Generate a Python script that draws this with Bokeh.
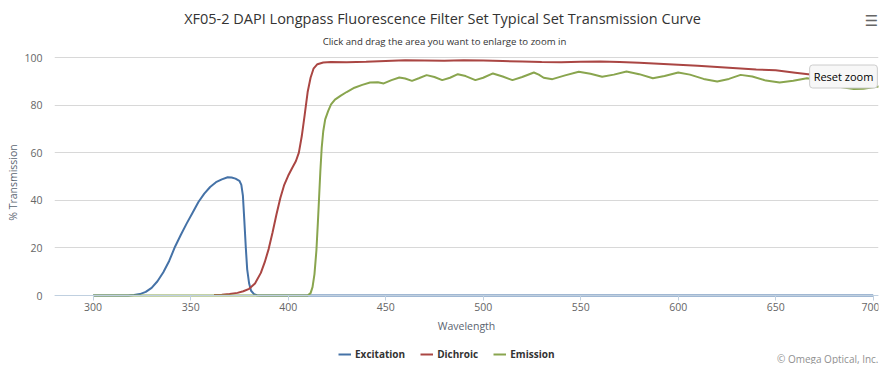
from bokeh.plotting import figure
from bokeh.models import Label, Legend, LegendItem, FixedTicker, Range1d, ColumnDataSource
from bokeh.embed import file_html
from bokeh.resources import INLINE

# ---- data ----
excitation_nm = [300, 318, 321, 324, 327, 330, 333, 336, 339, 342, 345, 348, 351, 354, 357, 360,
                 363, 366, 369, 371, 373, 375, 376, 376.8, 377.5, 378.3, 379, 380, 381, 382.5, 384, 386, 700]
excitation_t = [0, 0, 0.2, 0.6, 1.5, 3.2, 6.0, 9.8, 14.5, 20.5, 25.5, 30.3, 34.8, 39.3, 42.8, 45.6,
                47.6, 48.8, 49.7, 49.6, 49.1, 48.2, 46.5, 42, 32, 20, 11, 5, 2, 0.6, 0.1, 0, 0]

dichroic_nm = [362, 366, 370, 374, 377, 380, 383, 386, 388, 390, 392, 394, 396, 398, 400, 402, 404,
               405.5, 407, 408.5, 410, 411.5, 413, 415, 418, 422, 430, 440, 450, 460, 470, 480, 490,
               500, 510, 520, 530, 540, 550, 560, 570, 580, 590, 600, 610, 620, 630, 640, 650, 660,
               670, 680, 690, 700]
dichroic_t = [0.2, 0.3, 0.6, 1.1, 1.8, 2.8, 5.0, 9.5, 14, 19.5, 26.5, 34, 41, 46.5, 50.3, 53.5, 56.5,
              60, 67, 76, 85.5, 91.5, 95.3, 97.2, 97.9, 98.1, 98.0, 98.2, 98.5, 98.8, 98.7, 98.6, 98.8,
              98.7, 98.5, 98.3, 98.1, 98.0, 98.2, 98.3, 98.1, 97.8, 97.4, 97.0, 96.5, 96.0, 95.5, 95.0,
              94.6, 93.6, 92.6, 91.9, 91.2, 90.7]

emission_nm = [300, 410, 411.5, 412.5, 413.5, 414.5, 415.2, 415.8, 416.5, 417.2, 418, 419, 420.5, 422,
               424, 427, 430, 434, 438, 442, 446, 449, 453, 457, 460, 463.5, 467, 471, 475, 479, 483,
               487, 491, 496, 500, 505, 510, 515, 520, 526, 528.5, 531, 535.5, 542, 549, 555, 561,
               567, 573.5, 580, 587, 593, 600, 606, 613, 620, 626, 632, 638, 645, 652, 659, 666, 672,
               678, 684, 690, 695, 700, 703]
emission_t = [0, 0, 1, 3.5, 9, 19, 30, 40, 52, 62, 69, 74, 77.5, 80.3, 82.3, 84, 85.5, 87.3, 88.5,
              89.5, 89.6, 89.1, 90.5, 91.6, 91.2, 90.2, 91.3, 92.6, 91.8, 90.5, 91.5, 93.0, 92.2, 90.5,
              91.5, 93.3, 92.0, 90.5, 91.8, 93.7, 92.8, 91.5, 90.9, 92.5, 94.0, 93.2, 91.9, 92.8, 94.1,
              93.0, 91.3, 92.2, 93.7, 92.8, 91.0, 89.9, 91.0, 92.7, 92.0, 90.3, 89.5, 90.2, 91.3, 90.5,
              89.0, 87.5, 86.8, 86.9, 87.5, 87.8]

series_names = ["Excitation", "Dichroic", "Emission"]
series_colors = ["#4572A7", "#AA4643", "#89A54E"]
x_ticks = [300, 350, 400, 450, 500, 550, 600, 650, 700]
y_ticks = [0, 20, 40, 60, 80, 100]

FONT = "Open Sans"
AXIS_TITLE_COLOR = "#5a6470"

# ---- layout constants (pixels) ----
W, H = 879, 364
LEFT, RIGHT = 54, 1            # side borders
PLOT_TOP, PLOT_BOTTOM = 57, 295  # where 100 % and 0 % sit on the canvas
Y_MIN, Y_MAX = 0, 100
X_MIN, X_MAX = 280.2, 702.7

ky = (PLOT_BOTTOM - PLOT_TOP) / (Y_MAX - Y_MIN)
y_start = Y_MIN - (H - PLOT_BOTTOM) / ky
y_end = Y_MAX + PLOT_TOP / ky

p = figure(width=W, height=H, output_backend="svg", toolbar_location=None, title=None,
           x_range=Range1d(X_MIN, X_MAX), y_range=Range1d(y_start, y_end),
           min_border_left=LEFT, min_border_right=RIGHT, min_border_top=0, min_border_bottom=0)
p.outline_line_color = None
p.background_fill_color = "white"
p.border_fill_color = "white"

renderers = []
for xs, ys, c in [(excitation_nm, excitation_t, series_colors[0]),
                  (dichroic_nm, dichroic_t, series_colors[1]),
                  (emission_nm, emission_t, series_colors[2])]:
    src = ColumnDataSource(dict(x=xs, y=ys))
    renderers.append(p.line("x", "y", source=src, line_color=c, line_width=2))

# x axis, pinned at 0 %
xa = p.xaxis[0]
xa.fixed_location = 0
xa.ticker = FixedTicker(ticks=x_ticks)
xa.axis_line_color = "#C0D0E0"
xa.major_tick_line_color = "#C0D0E0"
xa.major_tick_out = 5
xa.major_tick_in = 0
xa.minor_tick_line_color = None
xa.major_label_standoff = 2
xa.major_label_text_font = FONT
xa.major_label_text_font_size = "10.5px"
xa.major_label_text_color = "#666666"
xa.axis_label = "Wavelength"
xa.axis_label_standoff = 5
xa.axis_label_text_font = FONT
xa.axis_label_text_font_size = "10.5px"
xa.axis_label_text_font_style = "normal"
xa.axis_label_text_color = AXIS_TITLE_COLOR

# y axis
ya = p.yaxis[0]
ya.bounds = (Y_MIN, Y_MAX)
ya.ticker = FixedTicker(ticks=y_ticks)
ya.axis_line_color = None
ya.major_tick_line_color = None
ya.minor_tick_line_color = None
ya.major_tick_out = 0
ya.major_tick_in = 0
ya.major_label_standoff = 12
ya.major_label_text_font = FONT
ya.major_label_text_font_size = "10.5px"
ya.major_label_text_color = "#666666"
ya.axis_label = "% Transmission"
ya.axis_label_standoff = 1
ya.axis_label_text_font = FONT
ya.axis_label_text_font_size = "10.5px"
ya.axis_label_text_font_style = "normal"
ya.axis_label_text_color = AXIS_TITLE_COLOR

p.xgrid.grid_line_color = None
p.ygrid.ticker = FixedTicker(ticks=y_ticks)
p.ygrid.grid_line_color = "#D8D8D8"
p.ygrid.grid_line_width = 1


def lab(px, py, text, size, color="#333333", align="center", font=FONT, **kw):
    """Place a text at canvas pixel (px, py); frame covers x >= LEFT and full height."""
    l = Label(x=px - LEFT, y=H - py, x_units="screen", y_units="screen", text=text,
              text_font=font, text_font_size=size, text_color=color,
              text_align=align, text_baseline="middle", **kw)
    p.add_layout(l)
    return l


lab(442, 18, "XF05-2 DAPI Longpass Fluorescence Filter Set Typical Set Transmission Curve", "14.5px")
lab(444, 41, "Click and drag the area you want to enlarge to zoom in", "9.6px")
lab(871, 20, "\u2630", "15px", color="#666666", font="DejaVu Sans")
lab(878, 358, "\u00a9 Omega Optical, Inc.", "10px", color="#909090", align="right")
lab(843, 76, "Reset zoom", "11px", color="#000000",
    background_fill_color="#f7f7f7", border_line_color="#cccccc", padding=4, border_radius=3)

legend = Legend(items=[LegendItem(label=n, renderers=[r]) for n, r in zip(series_names, renderers)],
                location=(338 - LEFT, H - 361), orientation="horizontal",
                glyph_width=13, glyph_height=12, label_height=12, label_standoff=4, spacing=15,
                padding=0, margin=0, background_fill_alpha=0, border_line_alpha=0,
                label_text_font=FONT, label_text_font_size="10px", label_text_font_style="bold",
                label_text_color="#333333")
p.add_layout(legend)

open("out.html", "w").write(file_html(p, INLINE))
